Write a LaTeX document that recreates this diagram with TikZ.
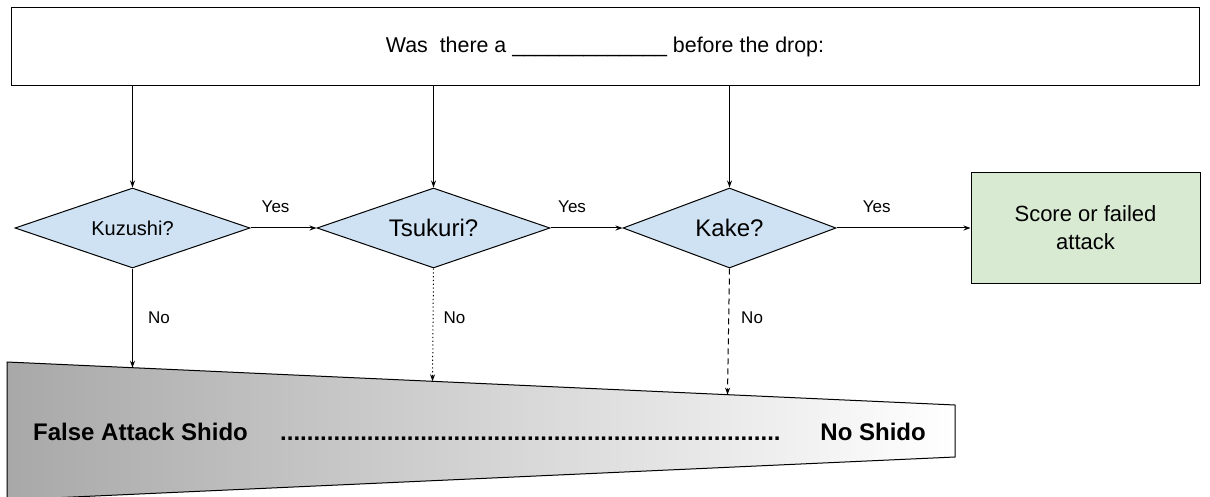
\documentclass[tikz,border=0pt]{standalone}
\usepackage{fontspec}
\setmainfont{Liberation Sans}
\usetikzlibrary{shapes.geometric, arrows.meta, positioning}

\definecolor{decisionblue}{HTML}{CFE2F3}
\definecolor{outcomegreen}{HTML}{D9EAD3}

\begin{document}
\begin{tikzpicture}[
    x=1pt, y=-1pt,
    question/.style={
        rectangle,
        draw=black,
        line width=1pt,
        minimum width=1188pt,
        minimum height=78pt,
        font=\fontsize{21.4}{25}\selectfont
    },
    decision/.style={
        diamond,
        draw=black,
        fill=decisionblue,
        line width=1pt,
        aspect=2.9,
        inner sep=0pt,
        minimum height=80pt,
        font=\fontsize{24}{28}\selectfont
    },
    outcome/.style={
        rectangle,
        draw=black,
        fill=outcomegreen,
        line width=1pt,
        minimum width=229pt,
        minimum height=111pt,
        align=center,
        font=\fontsize{22}{28}\selectfont
    },
    link/.style={
        -{Stealth[length=7pt, width=5pt]},
        line width=1pt
    },
    branch_text/.style={
        font=\fontsize{17}{20}\selectfont,
        inner sep=0pt
    },
    scale_text/.style={
        font=\fontsize{24}{28}\selectfont\bfseries,
        inner sep=0pt
    }
]
    \useasboundingbox (0,0) rectangle (1210,497);

    % QUESTION BAR
    \node[question] (prompt) at (605,46.5) {Was~ there a \_\_\_\_\_\_\_\_\_\_\_\_\_ before the drop:};

    % DECISION ROW
    \node[decision, minimum width=235pt, font=\fontsize{20}{24}\selectfont] (kuzushi) at (132.5,228) {Kuzushi?};
    \node[decision, minimum width=233pt] (tsukuri) [right=66pt of kuzushi] {Tsukuri?};
    \node[decision, minimum width=213pt] (kake) [right=72pt of tsukuri] {Kake?};
    \node[outcome] (result) [right=134pt of kake] {Score or failed\\attack};

    % SHIDO SCALE (wedge)
    \coordinate (wedge_nw) at (7,362);
    \coordinate (wedge_ne) at (955,405);
    \coordinate (wedge_se) at (955,457);
    \coordinate (wedge_sw) at (7,500);
    \shade[left color=black!34, right color=white, draw=black, line width=1pt]
        (wedge_nw) -- (wedge_ne) -- (wedge_se) -- (wedge_sw) -- cycle;
    \coordinate (hit_kuzushi) at (132.5,367.7);
    \coordinate (hit_tsukuri) at (432.5,381.3);
    \coordinate (hit_kake) at (727.5,394.7);

    \node[scale_text, anchor=base west] (strict) at (33,440) {False Attack Shido};
    \node[scale_text, anchor=base west] (spectrum) at (280,440) {\foreach \i in {1,...,75}{.}};
    \node[scale_text, anchor=base east] (lenient) at (926,440) {No Shido};

    % QUESTION TO DECISIONS
    \draw[link] (prompt.south -| kuzushi.north) -- (kuzushi.north);
    \draw[link] (prompt.south -| tsukuri.north) -- (tsukuri.north);
    \draw[link] (prompt.south -| kake.north) -- (kake.north);

    % YES BRANCHES
    \draw[link] (kuzushi.east) -- (tsukuri.west) node[branch_text, pos=0.38, above=15pt] {Yes};
    \draw[link] (tsukuri.east) -- (kake.west) node[branch_text, pos=0.3, above=15pt] {Yes};
    \draw[link] (kake.east) -- (result.west) node[branch_text, pos=0.3, above=15pt] {Yes};

    % NO BRANCHES
    \draw[link] (kuzushi.south) -- (hit_kuzushi) node[branch_text, pos=0.5, right=15pt] {No};
    \draw[link, dash pattern=on 1.2pt off 2.6pt] (tsukuri.south) -- (hit_tsukuri)
        node[branch_text, pos=0.44, right=10pt] {No};
    \draw[link, dash pattern=on 6pt off 4pt] (kake.south) -- (hit_kake)
        node[branch_text, pos=0.39, right=12pt] {No};

\end{tikzpicture}
\end{document}
